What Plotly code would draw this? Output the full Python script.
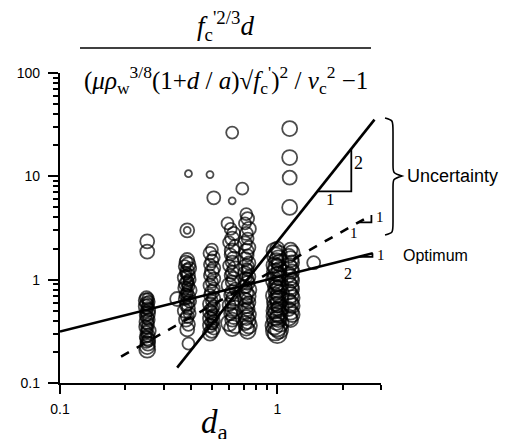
import numpy as np
import plotly.graph_objects as go

# ---------------- data ----------------
# column A  d/a ~ 0.25
a_x = [0.252, 0.252, 0.25, 0.254, 0.248, 0.256, 0.25, 0.254, 0.248, 0.252, 0.256, 0.25, 0.254,
       0.248, 0.252, 0.256, 0.25, 0.254, 0.248, 0.252, 0.256, 0.25, 0.254, 0.248, 0.252, 0.256,
       0.25, 0.254, 0.252, 0.252]
a_y = [2.35, 1.87, 0.67, 0.65, 0.63, 0.61, 0.59, 0.57, 0.55, 0.53, 0.51, 0.49, 0.47, 0.45,
       0.43, 0.41, 0.39, 0.37, 0.35, 0.34, 0.32, 0.31, 0.29, 0.28, 0.27, 0.26, 0.25, 0.24, 0.225, 0.21]
a_s = [14, 14, 13, 12, 14, 12, 13, 12, 14, 12, 13, 12, 14, 12, 13, 12, 14, 12, 13, 12, 14, 12,
       13, 12, 14, 13, 12, 14, 15, 16]

# column B  d/a ~ 0.385
b_x = [0.39, 0.385, 0.385, 0.346, 0.39, 0.385, 0.38, 0.39, 0.375, 0.395, 0.385, 0.38, 0.39,
       0.375, 0.395, 0.385, 0.38, 0.39, 0.375, 0.395, 0.385, 0.38, 0.39, 0.375, 0.395, 0.385,
       0.38, 0.39, 0.375, 0.395, 0.385, 0.38, 0.39, 0.385, 0.38, 0.39, 0.385, 0.38]
b_y = [10.6, 3.0, 3.0, 0.65, 0.24, 1.55, 1.48, 1.41, 1.35, 1.28, 1.22, 1.16, 1.1, 1.05, 1.0,
       0.95, 0.91, 0.87, 0.83, 0.79, 0.75, 0.71, 0.68, 0.65, 0.62, 0.59, 0.56, 0.53, 0.5, 0.47,
       0.44, 0.41, 0.37, 0.33, 1.12, 0.97, 0.85, 0.73]
b_s = [7, 14, 7, 14, 12, 14, 13, 14, 12, 13, 14, 12, 13, 14, 12, 13, 14, 12, 13, 14, 12, 13,
       14, 12, 13, 14, 12, 13, 14, 12, 13, 14, 13, 14, 10, 10, 10, 10]

# column C  d/a ~ 0.50
c_x = [0.49, 0.51, 0.50, 0.49, 0.51, 0.50, 0.49, 0.51, 0.50, 0.49, 0.51, 0.50, 0.49, 0.51,
       0.50, 0.49, 0.51, 0.50, 0.49, 0.51, 0.50, 0.49, 0.51, 0.50, 0.49, 0.51, 0.50, 0.49, 0.51,
       0.50, 0.49, 0.50, 0.50, 0.50]
c_y = [10.4, 6.2, 1.95, 1.8, 1.65, 1.52, 1.4, 1.3, 1.2, 1.1, 1.02, 0.95, 0.88, 0.82, 0.76,
       0.71, 0.66, 0.62, 0.58, 0.55, 0.52, 0.49, 0.46, 0.44, 0.42, 0.40, 0.38, 0.36, 0.34, 0.32,
       0.30, 0.5, 0.43, 0.37]
c_s = [7, 13, 12, 13, 12, 13, 12, 13, 14, 12, 13, 12, 13, 12, 14, 12, 13, 12, 14, 12, 13, 14,
       12, 13, 14, 12, 13, 14, 13, 14, 14, 10, 10, 10]

# column D  d/a ~ 0.62
d_x = [0.62, 0.62, 0.59, 0.61, 0.63, 0.62, 0.60, 0.64, 0.62, 0.61, 0.63, 0.62, 0.60, 0.64,
       0.62, 0.61, 0.63, 0.62, 0.60, 0.64, 0.62, 0.61, 0.63, 0.62, 0.60, 0.64, 0.62, 0.61, 0.63,
       0.62, 0.60, 0.64, 0.62]
d_y = [26.5, 5.8, 3.5, 3.1, 2.8, 2.5, 2.3, 2.1, 1.9, 1.75, 1.6, 1.48, 1.37, 1.27, 1.18, 1.1,
       1.02, 0.95, 0.88, 0.82, 0.76, 0.71, 0.66, 0.61, 0.57, 0.53, 0.5, 0.47, 0.44, 0.41, 0.38,
       0.36, 0.34]
d_s = [12, 7, 12, 12, 13, 14, 12, 13, 15, 12, 14, 13, 12, 15, 13, 12, 14, 13, 15, 12, 14, 13,
       15, 14, 13, 15, 14, 13, 15, 14, 16, 15, 16]

# column E  d/a ~ 0.72
e_x = [0.69, 0.72, 0.73, 0.71, 0.74, 0.72, 0.73, 0.71, 0.74, 0.72, 0.73, 0.71, 0.74, 0.72,
       0.73, 0.71, 0.74, 0.72, 0.73, 0.71, 0.74, 0.72, 0.73, 0.71, 0.74, 0.72, 0.73, 0.71, 0.74,
       0.72, 0.73, 0.71, 0.74, 0.72, 0.73, 0.725, 0.725, 0.725, 0.725]
e_y = [7.6, 4.3, 3.9, 3.5, 3.1, 2.8, 2.5, 2.25, 2.05, 1.88, 1.72, 1.58, 1.45, 1.34, 1.24,
       1.15, 1.07, 1.0, 0.93, 0.86, 0.8, 0.74, 0.69, 0.64, 0.6, 0.56, 0.52, 0.49, 0.46, 0.43,
       0.4, 0.38, 0.36, 0.34, 0.32, 1.3, 1.05, 0.83, 0.66]
e_s = [12, 12, 13, 12, 14, 13, 12, 14, 13, 15, 12, 14, 13, 15, 12, 14, 13, 15, 14, 13, 15, 14,
       16, 14, 13, 15, 14, 16, 14, 15, 16, 14, 16, 15, 16, 10, 10, 10, 10]

# column F  d/a ~ 1.0
f_x = [1.0, 0.97, 1.02, 0.98, 1.01, 0.99, 1.03, 0.97, 1.0, 1.02, 0.98, 1.01, 0.99, 1.03, 0.97,
       1.0, 1.02, 0.98, 1.01, 0.99, 1.03, 0.97, 1.0, 1.02, 0.98, 1.01, 0.99, 1.03, 0.97, 1.0,
       1.02, 0.98, 1.01, 0.99, 1.03, 0.97, 1.0, 1.02, 0.98, 1.0, 1.0, 1.0, 1.0, 1.0, 1.0]
f_y = [2.0, 1.9, 1.8, 1.7, 1.61, 1.53, 1.45, 1.38, 1.31, 1.25, 1.19, 1.13, 1.08, 1.03, 0.98,
       0.93, 0.89, 0.85, 0.81, 0.77, 0.73, 0.7, 0.67, 0.64, 0.61, 0.58, 0.55, 0.53, 0.5, 0.48,
       0.46, 0.44, 0.42, 0.4, 0.38, 0.36, 0.35, 0.33, 0.32, 0.30, 1.4, 1.1, 0.86, 0.68, 0.54]
f_s = [14, 16, 15, 17, 16, 15, 17, 16, 18, 15, 17, 16, 18, 15, 17, 16, 18, 15, 17, 16, 18, 17,
       16, 18, 17, 16, 18, 17, 16, 18, 17, 18, 17, 18, 17, 18, 19, 18, 19, 19, 11, 11, 11, 11, 11]

# column G  d/a ~ 1.15
g_x = [1.14, 1.14, 1.14, 1.14, 1.47, 1.15, 1.17, 1.13, 1.15, 1.17, 1.13, 1.15, 1.17, 1.13,
       1.15, 1.17, 1.13, 1.15, 1.17, 1.13, 1.15, 1.17, 1.13, 1.15, 1.17, 1.13, 1.15, 1.17, 1.13,
       1.15]
g_y = [29.0, 15.2, 9.7, 5.0, 1.46, 1.95, 1.82, 1.7, 1.58, 1.47, 1.37, 1.28, 1.2, 1.12, 1.05,
       0.98, 0.92, 0.86, 0.81, 0.76, 0.71, 0.67, 0.63, 0.59, 0.56, 0.52, 0.49, 0.46, 0.43, 0.41]
g_s = [15, 15, 14, 15, 13, 14, 15, 14, 16, 14, 15, 16, 14, 15, 16, 14, 15, 16, 14, 15, 16, 15,
       14, 16, 15, 14, 16, 15, 16, 15]

# trend lines  y = c * x^n  (end points)
opt_x = [0.1, 2.75]
opt_y = [0.315, 1.80]
mid_x = [0.191, 2.63]
mid_y = [0.18, 4.07]
steep_x = [0.346, 2.80]
steep_y = [0.141, 35.4]

# ---------------- figure ----------------
OFF = 8                     # browser body margin
W, H = 511 - OFF, 439 - OFF
L, R, T, B = 60, 381, 73, 383   # plot area in reference pixels

px_all = a_x + b_x + c_x + d_x + e_x + f_x + g_x
py_all = a_y + b_y + c_y + d_y + e_y + f_y + g_y
ps_all = a_s + b_s + c_s + d_s + e_s + f_s + g_s

fig = go.Figure()
fig.add_trace(go.Scatter(
    x=px_all, y=py_all, mode="markers",
    marker=dict(symbol="circle-open", size=ps_all, color="black", line=dict(width=1.8)),
    showlegend=False, hoverinfo="skip"))


def power_line(xs, ys):
    n = np.log10(ys[1] / ys[0]) / np.log10(xs[1] / xs[0])
    c = ys[0] / xs[0] ** n
    return n, c


for xs, ys, dash in [(opt_x, opt_y, "solid"), (mid_x, mid_y, "dash"), (steep_x, steep_y, "solid")]:
    fig.add_trace(go.Scatter(x=xs, y=ys, mode="lines",
                             line=dict(color="black", width=2.6, dash=dash),
                             showlegend=False, hoverinfo="skip"))


def slope_triangle(xs, ys, xa, xb):
    n, c = power_line(xs, ys)
    ya, yb = c * xa ** n, c * xb ** n
    fig.add_trace(go.Scatter(x=[xa, xb, xb], y=[ya, ya, yb], mode="lines",
                             line=dict(color="black", width=1.8),
                             showlegend=False, hoverinfo="skip"))
    return ya, yb


st_a, st_b = slope_triangle(steep_x, steep_y, 1.53, 2.19)
md_a, md_b = slope_triangle(mid_x, mid_y, 2.36, 2.71)
op_a, op_b = slope_triangle(opt_x, opt_y, 2.36, 2.74)

serif = "Liberation Serif, Times New Roman, serif"
sans = "Liberation Sans, Arial, sans-serif"

ann = []


def lab(x, y, t, size=16, xanchor="center", yanchor="middle"):
    ann.append(dict(x=np.log10(x), y=np.log10(y), xref="x", yref="y", text=t, showarrow=False,
                    font=dict(family=serif, size=size, color="black"),
                    xanchor=xanchor, yanchor=yanchor))


lab(2.20, 13.5, "2", size=18, xanchor="left")
lab(1.75, st_a * 0.84, "1", size=17)
lab(2.80, 4.0, "1", size=15, xanchor="left")
lab(2.25, 2.8, "1", size=15)
lab(2.82, 1.72, "1", size=15, xanchor="left")
lab(2.12, 1.16, "2", size=16)


def pxp(x, y):
    return (x - L) / (R - L), (B - y) / (B - T)


def note(xp, yp, text, size, family, xanchor="center"):
    x1, y1 = pxp(xp, yp)
    ann.append(dict(x=x1, y=y1, xref="paper", yref="paper", text=text, showarrow=False,
                    xanchor=xanchor, yanchor="middle",
                    font=dict(family=family, size=size, color="black")))


note(405, 176, "Uncertainty", 18, sans, "left")
note(401, 255, "Optimum", 16, sans, "left")

# formula title
note(226, 26, "<i>f</i><sub>c</sub><sup>'2/3</sup><i>d</i>", 27, serif)
note(226, 80, "(<i>μρ</i><sub>w</sub><sup>3/8</sup>(1+<i>d</i> / <i>a</i>)√<i>f</i><sub>c</sub><sup>'</sup>)<sup>2</sup> / <i>v</i><sub>c</sub><sup>2</sup> −1", 25, serif)
note(214, 424, "<i>d</i><sub>a</sub>", 33, serif)

shapes = []
fx0, fy0 = pxp(80, 48)
fx1, _ = pxp(371, 48)
shapes.append(dict(type="line", xref="paper", yref="paper", x0=fx0, x1=fx1, y0=fy0, y1=fy0,
                   line=dict(color="black", width=1.6)))

# brace
pts = [(385, 118), (393, 120), (393, 132), (393, 165), (393, 173), (402, 176),
       (393, 179), (393, 187), (393, 222), (393, 233), (385, 235)]
P = [pxp(*p) for p in pts]
path = "M {:.4f},{:.4f} C {:.4f},{:.4f} {:.4f},{:.4f} {:.4f},{:.4f} L {:.4f},{:.4f} C {:.4f},{:.4f} {:.4f},{:.4f} {:.4f},{:.4f}".format(
    *P[0], *P[1], *P[1], *P[2], *P[3], *P[4], *P[4], *P[5])
path += " C {:.4f},{:.4f} {:.4f},{:.4f} {:.4f},{:.4f} L {:.4f},{:.4f} C {:.4f},{:.4f} {:.4f},{:.4f} {:.4f},{:.4f}".format(
    *P[6], *P[6], *P[7], *P[8], *P[9], *P[9], *P[10])
shapes.append(dict(type="path", xref="paper", yref="paper", path=path,
                   line=dict(color="black", width=1.6)))

x_minor = [0.2, 0.3, 0.4, 0.5, 0.6, 0.7, 0.8, 0.9, 2, 3]
y_minor = [v * m for m in (0.1, 1, 10) for v in range(2, 10)]

fig.update_layout(
    width=W, height=H,
    margin=dict(l=L - OFF, r=W - (R - OFF), t=T - OFF, b=H - (B - OFF), autoexpand=False),
    plot_bgcolor="white", paper_bgcolor="white",
    annotations=ann, shapes=shapes,
    xaxis=dict(type="log", range=[-1, np.log10(3)], showgrid=False, zeroline=False,
               showline=True, linecolor="black", linewidth=2.4,
               ticks="outside", ticklen=9, tickwidth=2, tickcolor="black",
               tickvals=[0.1, 1], ticktext=["0.1", "1"], ticklabelstandoff=3,
               tickfont=dict(family=sans, size=14, color="black"),
               minor=dict(tickvals=x_minor, ticks="outside", ticklen=5, tickwidth=1.6,
                          tickcolor="black", showgrid=False)),
    yaxis=dict(type="log", range=[-1, 2], showgrid=False, zeroline=False,
               showline=True, linecolor="black", linewidth=2.4,
               ticks="outside", ticklen=10, tickwidth=2, tickcolor="black",
               tickvals=[0.1, 1, 10, 100], ticktext=["0.1", "1", "10", "100"],
               ticklabelstandoff=5,
               tickfont=dict(family=sans, size=14, color="black"),
               minor=dict(tickvals=y_minor, ticks="outside", ticklen=5, tickwidth=1.6,
                          tickcolor="black", showgrid=False)),
)

fig.write_html("out.html")
